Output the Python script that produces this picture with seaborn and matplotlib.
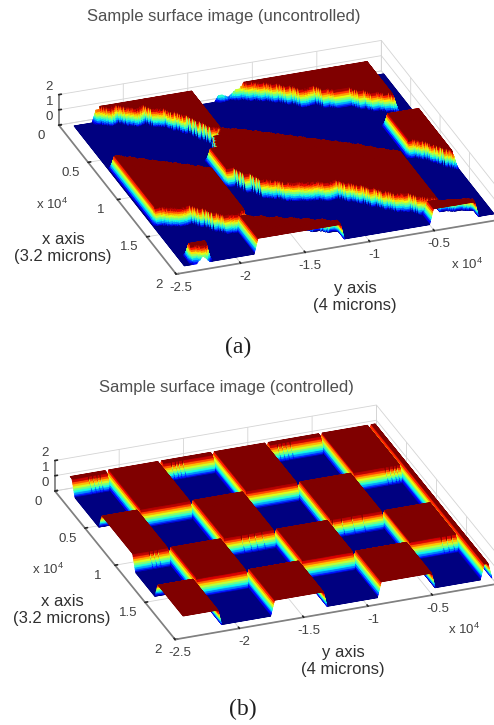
import numpy as np
import matplotlib
matplotlib.use('Agg')
import matplotlib.pyplot as plt
import seaborn as sns

# all x / y values below are in units of 10^4
x_ticks = [0, 0.5, 1, 1.5, 2]
x_tick_labels = ['0', '0.5', '1', '1.5', '2']
y_ticks = [-2.5, -2, -1.5, -1, -0.5, 0]
y_tick_labels = ['-2.5', '-2', '-1.5', '-1', '-0.5', '0']
z_ticks = [0, 1, 2]
z_high = 1.0

# panel (a): raised bands, (y start of each step, back edge, front edge, y end)
band1_y = [-2.26, -2.20, -2.14, -2.08, -2.02, -1.96, -1.90, -1.84, -1.78, -1.72, -1.66, -1.60, -1.54]
band1_back = [0] * 13
band1_front = [0.08, 0.12, 0.10, 0.15, 0.18, 0.16, 0.22, 0.24, 0.30, 0.36, 0.46, 0.56, 0.58]
band1_end = -1.46

band2_y = [-1.70, -1.62, -1.54, -1.47, -1.40, -1.33, -1.26, -1.19, -1.12, -1.05, -0.98, -0.91, -0.84,
           -0.77, -0.70, -0.63, -0.56, -0.49, -0.42]
band2_back = [0.76, 0.62, 0.54, 0.57, 0.60, 0.64, 0.68, 0.72, 0.76, 0.80, 0.84, 0.88, 0.92,
              0.96, 1.00, 1.05, 1.10, 1.14, 1.18]
band2_front = [1.08, 1.18, 1.28, 1.31, 1.36, 1.38, 1.40, 1.41, 1.44, 1.43, 1.49, 1.54, 1.60,
               1.66, 1.71, 1.73, 1.79, 1.83, 1.87]
band2_end = -0.36

band3_y = [-1.31, -1.25, -1.19, -1.11, -1.03, -0.95, -0.87, -0.79, -0.71, -0.63, -0.55, -0.47, -0.39, -0.31, -0.23, -0.15]
band3_back = [0] * 16
band3_front = [0.06, 0.05, 0.07, 0.10, 0.13, 0.17, 0.22, 0.28, 0.27, 0.33, 0.36, 0.36, 0.42, 0.47, 0.50, 0.55]
band3_end = -0.10

band4_y = [-0.30, -0.24, -0.18, -0.12, -0.06]
band4_back = [0.70, 0.70, 0.70, 0.70, 0.70]
band4_front = [1.10, 1.14, 1.20, 1.28, 1.33]
band4_end = 0.0

band5_y = [-0.50, -0.40, -0.30, -0.20]
band5_back = [1.82, 1.84, 1.86, 1.88]
band5_front = [9, 9, 9, 9]
band5_end = -0.12

band6_y = [-2.40, -2.33, -2.26, -2.19, -2.12, -2.05, -1.98, -1.91, -1.84, -1.78]
band6_back = [0.66, 0.70, 0.74, 0.78, 0.82, 0.86, 0.90, 0.94, 0.98, 1.02]
band6_front = [1.40, 1.43, 1.45, 1.44, 1.50, 1.58, 1.63, 1.64, 1.60, 1.58]
band6_end = -1.74

band7_y = [-1.86, -1.78, -1.68, -1.58, -1.48, -1.38, -1.28]
band7_back = [1.62, 1.66, 1.70, 1.74, 1.78, 1.82, 1.86]
band7_front = [9, 9, 9, 9, 9, 9, 9]
band7_end = -1.16

band8_y = [-2.36, -2.30, -2.24]
band8_back = [1.84, 1.84, 1.84]
band8_front = [1.92, 1.94, 1.92]
band8_end = -2.18

bands_a = [
    (band1_y, band1_back, band1_front, band1_end),
    (band2_y, band2_back, band2_front, band2_end),
    (band3_y, band3_back, band3_front, band3_end),
    (band4_y, band4_back, band4_front, band4_end),
    (band5_y, band5_back, band5_front, band5_end),
    (band6_y, band6_back, band6_front, band6_end),
    (band7_y, band7_back, band7_front, band7_end),
    (band8_y, band8_back, band8_front, band8_end),
]

# panel (b): checker cells, first row and last column are the thin raised rims
check_x = [0.0, 0.07, 0.57, 1.08, 1.50, 1.92]
check_y = [-2.40, -2.10, -1.69, -1.28, -0.86, -0.44, -0.06, 0.0]
check_cells = [
    [1, 1, 1, 1, 1, 1, 1],
    [0, 1, 0, 1, 0, 1, 1],
    [1, 0, 1, 0, 1, 0, 1],
    [0, 1, 0, 1, 0, 1, 1],
    [1, 0, 1, 0, 1, 0, 1],
]

# thin streaks seen on the walls of panel (b): wall position, then y of each streak
streaks_b = [
    (0.07, [-2.27, -2.24, -2.21, -2.18]),
    (0.07, [-1.63, -1.60, -1.57, -1.54]),
    (0.07, [-0.80, -0.77, -0.74, -0.71]),
    (0.57, [-0.20, -0.17, -0.14, -0.11]),
    (1.08, [-2.27, -2.24, -2.21]),
    (1.08, [-1.56, -1.50, -1.45, -1.40]),
    (1.08, [-0.85, -0.78, -0.70, -0.62]),
    (1.50, [-0.20, -0.16, -0.12]),
]

ramp_x, ramp_y = 0.05, 0.03


def step_lookup(ys, values, Y):
    """Front or back edge of a band, each step eased over a few grid columns."""
    vals = np.array(values, dtype=float)
    total = 0
    offsets = [0.0, 0.012, 0.024, 0.036]
    for off in offsets:
        idx = np.clip(np.searchsorted(ys, Y - off, side='right') - 1, 0, len(ys) - 1)
        total = total + vals[idx]
    return total / len(offsets)


def build_surface(x_edges, y_edges, bands):
    """Height grid for a list of raised bands, walls get extra rows so the colours grade."""
    y_parts = [np.linspace(y_edges[0], y_edges[1], 300)]
    for ys, back, front, end in bands:
        y_parts.append(np.linspace(ys[0], ys[0] + ramp_y, 9))
        y_parts.append(np.linspace(end - ramp_y, end, 9))
    y = np.unique(np.clip(np.concatenate(y_parts), y_edges[0], y_edges[1]))
    x = np.linspace(x_edges[0], x_edges[1], 340)
    X, Y = np.meshgrid(x, y, indexing='ij')
    Z = np.zeros_like(X)
    for ys, back, front, end in bands:
        b = step_lookup(ys, back, Y)
        f = step_lookup(ys, front, Y)
        h = np.clip((f - X) / ramp_x, 0, 1) * np.clip((X - b) / ramp_x + 1, 0, 1)
        h = h * np.clip((Y - ys[0]) / ramp_y, 0, 1) * np.clip((end - Y) / ramp_y, 0, 1)
        Z = np.maximum(Z, h)
    return X, Y, Z * z_high


def draw_panel(rect, X, Y, Z, azim):
    ax = fig.add_axes(rect, projection='3d', proj_type='ortho')
    ax.patch.set_alpha(0)
    ax.set_box_aspect((1, 1, 0.1), zoom=0.945)
    ax.view_init(elev=27.5, azim=azim)
    colors = cmap(Z / z_high)
    ax.plot_surface(X, Y, Z, facecolors=colors, rstride=1, cstride=1,
                    shade=False, linewidth=0.5, antialiased=True)
    ax.set_xlim(0, 2)
    ax.set_ylim(-2.5, 0)
    ax.set_zlim(0, 2)
    ax.set_xticks(x_ticks, x_tick_labels, fontsize=9.5, color='#404040')
    ax.set_yticks(y_ticks, y_tick_labels, fontsize=9.5, color='#404040')
    ax.set_zticks(z_ticks, ['0', '1', '2'], fontsize=9.5, color='#404040', va='bottom')
    for axis in (ax.xaxis, ax.yaxis, ax.zaxis):
        axis.set_pane_color((1, 1, 1, 0))
        axis.pane.set_edgecolor('#c4c4c4')
        axis.line.set_color('#808080')
        axis._axinfo['grid'].update(color='#d4d4d4', linewidth=0.6)
        axis._axinfo['tick'].update(inward_factor=0.0, outward_factor=0.1)
    ax.zaxis.set_ticks_position('lower')
    ax.tick_params(axis='x', pad=2)
    ax.tick_params(axis='y', pad=0)
    ax.tick_params(axis='z', pad=-4)
    return ax


sns.set_theme(style='white')
plt.rcParams['font.family'] = ['Liberation Sans', 'DejaVu Sans']
plt.rcParams['mathtext.default'] = 'regular'
cmap = plt.get_cmap('jet')

fig = plt.figure(figsize=(4.94, 7.25), dpi=100)

# checker tiles: the top fills the cell, the wall runs outward from it
bands_b = []
for i, row in enumerate(check_cells):
    for j, on in enumerate(row):
        if on:
            bands_b.append(([check_y[j] - ramp_y], [check_x[i]], [check_x[i + 1] + ramp_x], check_y[j + 1]))

Xa, Ya, Za = build_surface((0.04, 1.92), (-2.40, 0.0), bands_a)
Xb, Yb, Zb = build_surface((0.04, 1.92), (-2.40, 0.0), bands_b)

for wall_x, streak_ys in streaks_b:
    rows = (Xb[:, 0] > wall_x) & (Xb[:, 0] < wall_x + ramp_x)
    for sy in streak_ys:
        col = np.argmin(np.abs(Yb[0] - sy))
        Zb[rows, col] = Zb[rows, col] * 0.75

w = 500 / 494
h = 500 / 725
draw_panel([(272 - 250) / 494, 1 - (164 + 250) / 725, w, h], Xa, Ya, Za, -20)
draw_panel([(269 - 250) / 494, 1 - (529 + 250) / 725, w, h], Xb, Yb, Zb, -20.5)


def put(x, y, s, **kw):
    fig.text(x / 494, 1 - y / 725, s, ha='center', va='center', **kw)


put(224, 17, 'Sample surface image (uncontrolled)', fontsize=12, color='#505050')
put(226, 387, 'Sample surface image (controlled)', fontsize=12, color='#505050')
put(238, 347, '(a)', fontsize=17, family='Liberation Serif', color='#202020')
put(243, 709, '(b)', fontsize=17, family='Liberation Serif', color='#202020')
put(63, 248, 'x axis\n(3.2 microns)', fontsize=12, color='#303030')
put(355, 297, 'y axis\n(4 microns)', fontsize=12, color='#303030')
put(62, 610, 'x axis\n(3.2 microns)', fontsize=12, color='#303030')
put(343, 661, 'y axis\n(4 microns)', fontsize=12, color='#303030')
put(52, 204, 'x 10$^{4}$', fontsize=9.5, color='#404040')
put(467, 264, 'x 10$^{4}$', fontsize=9.5, color='#404040')
put(48, 569, 'x 10$^{4}$', fontsize=9.5, color='#404040')
put(464, 629, 'x 10$^{4}$', fontsize=9.5, color='#404040')

fig.savefig('out.png', dpi=100)
